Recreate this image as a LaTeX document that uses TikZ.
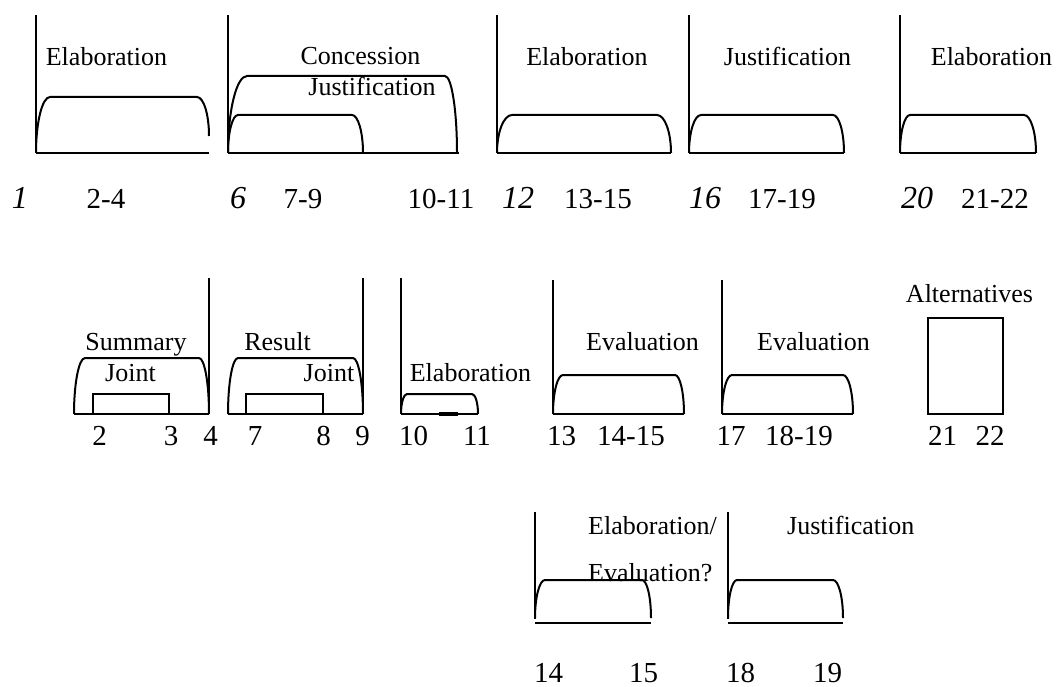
\documentclass[tikz,border=0pt]{standalone}
\usepackage{fontspec}
\setmainfont{Liberation Serif}

% rounded span: left foot (#1,#2), right foot (#3,#4), top at #5,
% horizontal reach of the left and right bends #6 and #7
\newcommand{\rstarch}[7]{%
  \draw[archline] (#1,#2)
    .. controls (#1,{#2-0.5523*(#2-#5)}) and ({#1+0.4477*#6},#5) .. ({#1+#6},#5)
    -- ({#3-#7},#5)
    .. controls ({#3-0.4477*#7},#5) and (#3,{#4-0.5523*(#4-#5)}) .. (#3,#4);}

\tikzset{
  archline/.style={line width=2pt, line join=round},
  stem/.style={line width=1.6pt},
  baseln/.style={line width=2pt},
  thickbase/.style={line width=2.6pt},
  boxline/.style={line width=2pt},
  rel/.style={font=\fontsize{26}{30}\selectfont, inner sep=0pt, anchor=base},
  unit/.style={font=\fontsize{29}{32}\selectfont, inner sep=0pt, anchor=base},
  nucl/.style={font=\fontsize{32}{36}\selectfont\itshape, inner sep=0pt, anchor=base},
}

\begin{document}
\begin{tikzpicture}[x=1pt,y=-1pt]
\useasboundingbox (0,0) rectangle (1056,687);

%% ---------------- top row ----------------
% 1 <- 2-4
\draw[stem] (36,15) -- (36,153);
\draw[baseln] (36,153) -- (209,153);
\rstarch{36}{153}{209}{136}{97}{14}{12}
\node[rel] (t1rel) at (106.5,66) {Elaboration};
% 6 <- 7-9, 10-11
\draw[stem] (228,15) -- (228,153);
\draw[baseln] (228,153) -- (459,153);
\rstarch{228}{153}{457}{153}{76}{19}{12}
\rstarch{228}{153}{363}{153}{115}{10}{11}
\node[rel] (t2rela) at (360.5,65) {Concession};
\node[rel] (t2relb) at (372,96) {Justification};
% 12 <- 13-15
\draw[stem] (497,15) -- (497,153);
\draw[baseln] (497,153) -- (671,153);
\rstarch{497}{153}{671}{153}{115}{15}{14}
\node[rel] (t3rel) at (587,66) {Elaboration};
% 16 <- 17-19
\draw[stem] (689,15) -- (689,153);
\draw[baseln] (689,153) -- (844,153);
\rstarch{689}{153}{844}{153}{115}{12}{11}
\node[rel] (t4rel) at (787.5,66) {Justification};
% 20 <- 21-22
\draw[stem] (900,15) -- (900,153);
\draw[baseln] (900,153) -- (1036,153);
\rstarch{900}{153}{1036}{153}{115}{10}{12}
\node[rel] (t5rel) at (991.5,66) {Elaboration};

% segment labels
\node[nucl] (u1)  at (20,208)  {1};
\node[unit] (u24) at (106,208) {2-4};
\node[nucl] (u6)  at (238,208) {6};
\node[unit] (u79) at (303,208) {7-9};
\node[unit] (u1011) at (441,208) {10-11};
\node[nucl] (u12) at (518,208) {12};
\node[unit] (u1315) at (598,208) {13-15};
\node[nucl] (u16) at (705,208) {16};
\node[unit] (u1719) at (782,208) {17-19};
\node[nucl] (u20) at (917,208) {20};
\node[unit] (u2122) at (995,208) {21-22};

%% ---------------- middle row ----------------
% 2-4
\draw[stem] (209,278) -- (209,414);
\draw[baseln] (74,414) -- (209,414);
\rstarch{74}{414}{209}{414}{358}{11}{10}
\draw[boxline] (93,394) rectangle (169,414);
\node[rel] (m1rela) at (136,350) {Summary};
\node[rel] (m1relb) at (130.5,381) {Joint};
% 7-9
\draw[stem] (363,278) -- (363,414);
\draw[baseln] (228,414) -- (363,414);
\rstarch{228}{414}{363}{414}{358}{10}{10}
\draw[boxline] (246,394) rectangle (323,414);
\node[rel] (m2rela) at (277.5,350) {Result};
\node[rel] (m2relb) at (329,381) {Joint};
% 10-11
\draw[stem] (401,278) -- (401,414);
\draw[baseln] (401,414) -- (478,414);
\draw[line width=3.6pt] (439,414) -- (458,414);
\rstarch{401}{414}{478}{414}{394}{6}{6}
\node[rel] (m3rel) at (470.5,381) {Elaboration};
% 13-15
\draw[stem] (553,280) -- (553,414);
\draw[baseln] (553,414) -- (684,414);
\rstarch{553}{414}{684}{414}{375}{10}{9}
\node[rel] (m4rel) at (642.5,350) {Evaluation};
% 17-19
\draw[stem] (722,280) -- (722,414);
\draw[baseln] (722,414) -- (853,414);
\rstarch{722}{414}{853}{414}{375}{10}{10}
\node[rel] (m5rel) at (813.5,350) {Evaluation};
% 21-22
\draw[boxline] (928,318) rectangle (1003,414);
\node[rel] (m6rel) at (969.5,302) {Alternatives};

% segment labels
\node[unit] (n2)  at (99.5,445)  {2};
\node[unit] (n3)  at (171,445)   {3};
\node[unit] (n4)  at (210.5,445) {4};
\node[unit] (n7)  at (255,445)   {7};
\node[unit] (n8)  at (323.5,445) {8};
\node[unit] (n9)  at (362.5,445) {9};
\node[unit] (n10) at (413.5,445) {10};
\node[unit] (n11) at (477,445)   {11};
\node[unit] (n13) at (561.5,445) {13};
\node[unit] (n1415) at (631,445) {14-15};
\node[unit] (n17) at (731,445)   {17};
\node[unit] (n1819) at (799,445) {18-19};
\node[unit] (n21) at (942.5,445) {21};
\node[unit] (n22) at (990,445)   {22};

%% ---------------- bottom row ----------------
% 14-15
\draw[stem] (535,512) -- (535,619);
\draw[thickbase] (535,623) -- (651,623);
\rstarch{535}{618}{651}{618}{580}{10}{9}
\node[rel, anchor=base west] (b1rela) at (588,534) {Elaboration/};
\node[rel, anchor=base west] (b1relb) at (588,581) {Evaluation?};
% 18-19
\draw[stem] (728,512) -- (728,619);
\draw[thickbase] (728,623) -- (843,623);
\rstarch{728}{618}{843}{618}{580}{9}{10}
\node[rel, anchor=base west] (b2rel) at (787,534) {Justification};

% segment labels
\node[unit] (k14) at (548.5,682) {14};
\node[unit] (k15) at (643.5,682) {15};
\node[unit] (k18) at (740.5,682) {18};
\node[unit] (k19) at (827.5,682) {19};

\end{tikzpicture}
\end{document}
